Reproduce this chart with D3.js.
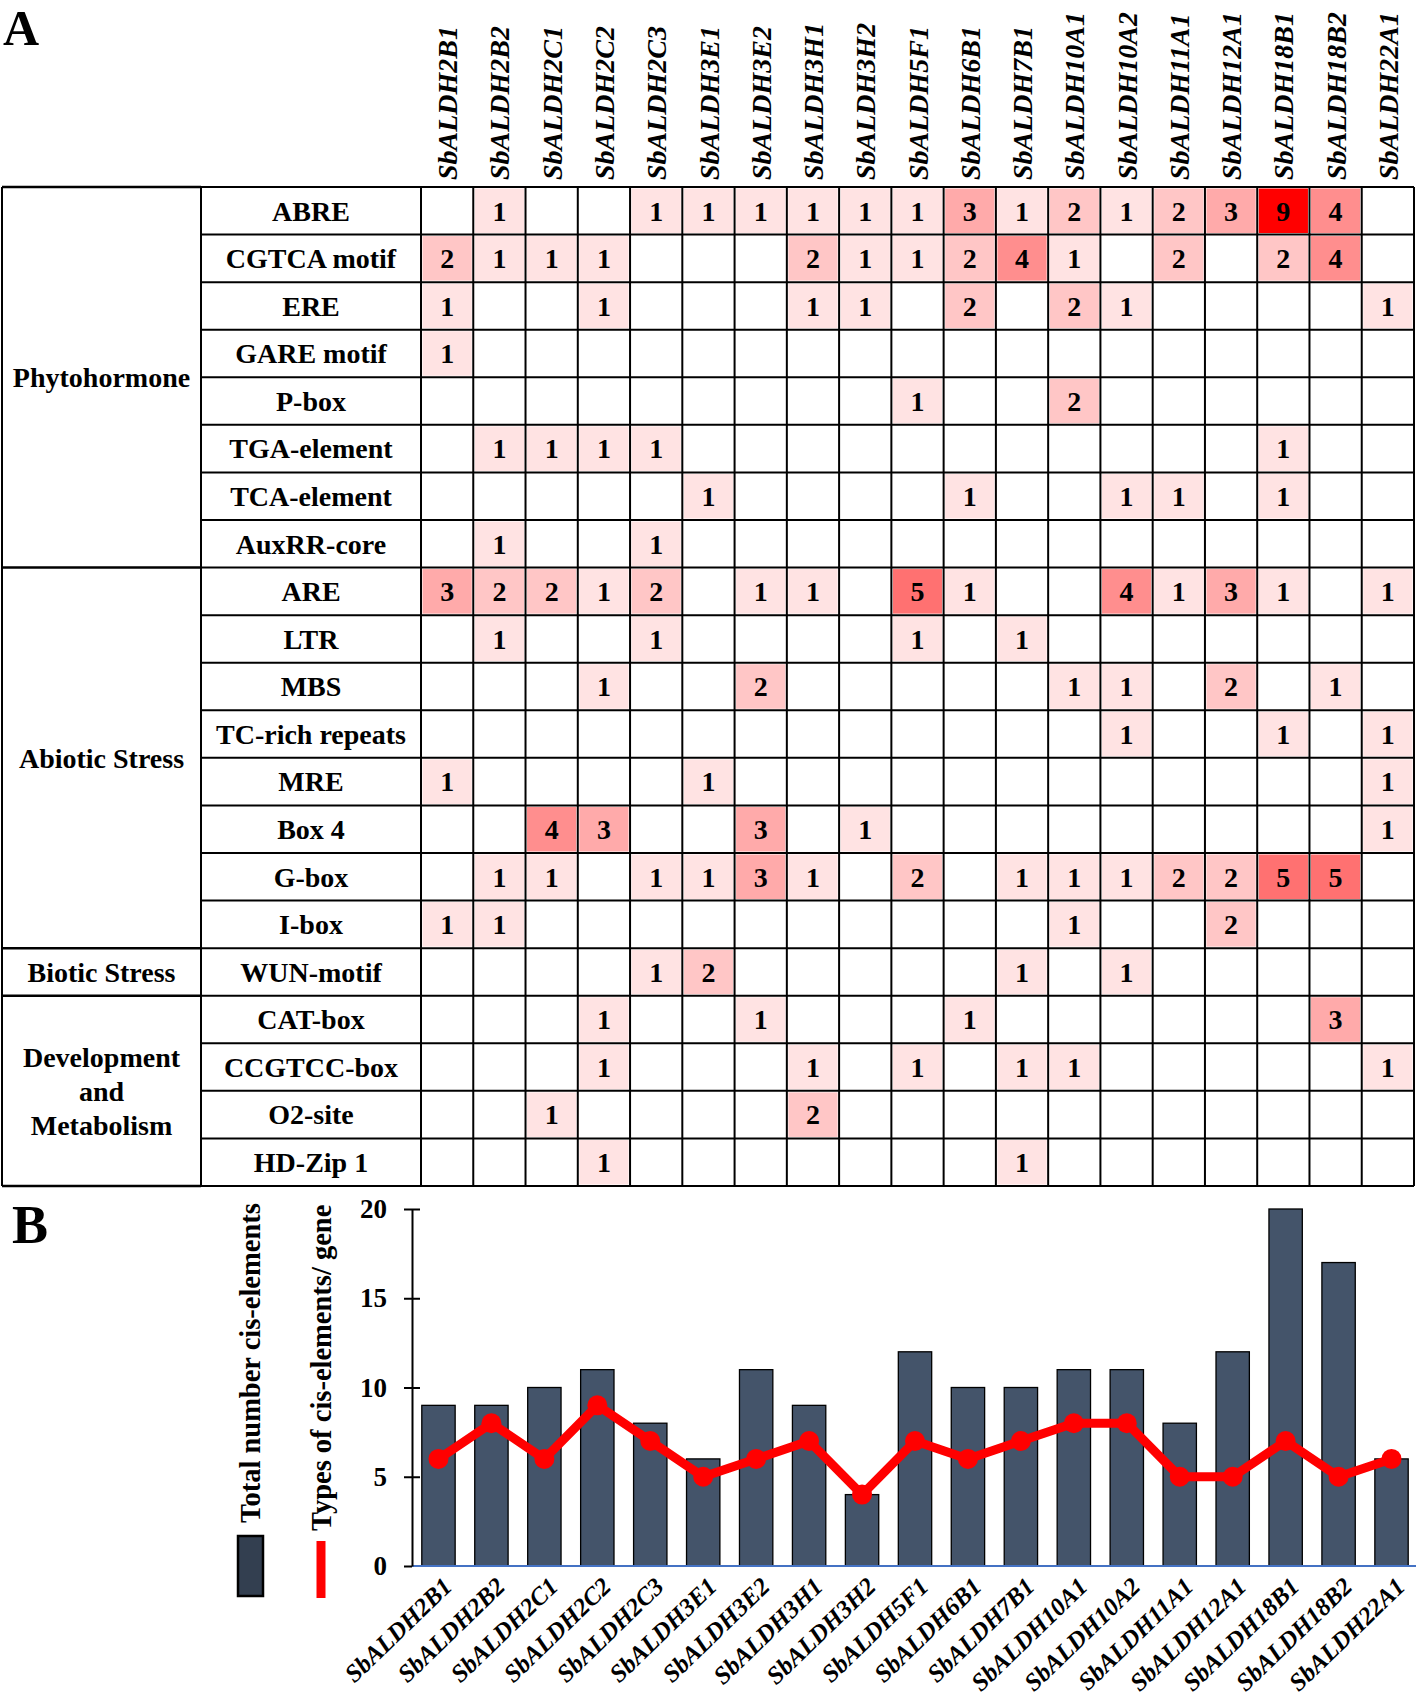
<!DOCTYPE html>
<html>
<head>
<meta charset="utf-8">
<script src="https://cdn.jsdelivr.net/npm/d3@7"></script>
<style>
  html, body { margin: 0; padding: 0; background: #fff; }
  svg { display: block; }
  text { font-family: "Liberation Serif", "Times New Roman", serif; font-weight: bold; fill: #000; }
</style>
</head>
<body>
<svg id="chart" width="1416" height="1703"></svg>
<script>
// ---------------- DATA ----------------
const genes = ["SbALDH2B1","SbALDH2B2","SbALDH2C1","SbALDH2C2","SbALDH2C3","SbALDH3E1","SbALDH3E2",
  "SbALDH3H1","SbALDH3H2","SbALDH5F1","SbALDH6B1","SbALDH7B1","SbALDH10A1","SbALDH10A2",
  "SbALDH11A1","SbALDH12A1","SbALDH18B1","SbALDH18B2","SbALDH22A1"];

const elements = ["ABRE","CGTCA motif","ERE","GARE motif","P-box","TGA-element","TCA-element","AuxRR-core",
  "ARE","LTR","MBS","TC-rich repeats","MRE","Box 4","G-box","I-box",
  "WUN-motif",
  "CAT-box","CCGTCC-box","O2-site","HD-Zip 1"];

const groupNames = [["Phytohormone"],["Abiotic Stress"],["Biotic Stress"],["Development","and","Metabolism"]];
const groupSizes = [8, 8, 1, 4];

const abre   = [0,1,0,0,1,1,1,1,1,1,3,1,2,1,2,3,9,4,0];
const cgtca  = [2,1,1,1,0,0,0,2,1,1,2,4,1,0,2,0,2,4,0];
const ere    = [1,0,0,1,0,0,0,1,1,0,2,0,2,1,0,0,0,0,1];
const gare   = [1,0,0,0,0,0,0,0,0,0,0,0,0,0,0,0,0,0,0];
const pbox   = [0,0,0,0,0,0,0,0,0,1,0,0,2,0,0,0,0,0,0];
const tga    = [0,1,1,1,1,0,0,0,0,0,0,0,0,0,0,0,1,0,0];
const tca    = [0,0,0,0,0,1,0,0,0,0,1,0,0,1,1,0,1,0,0];
const auxrr  = [0,1,0,0,1,0,0,0,0,0,0,0,0,0,0,0,0,0,0];
const are    = [3,2,2,1,2,0,1,1,0,5,1,0,0,4,1,3,1,0,1];
const ltr    = [0,1,0,0,1,0,0,0,0,1,0,1,0,0,0,0,0,0,0];
const mbs    = [0,0,0,1,0,0,2,0,0,0,0,0,1,1,0,2,0,1,0];
const tcrich = [0,0,0,0,0,0,0,0,0,0,0,0,0,1,0,0,1,0,1];
const mre    = [1,0,0,0,0,1,0,0,0,0,0,0,0,0,0,0,0,0,1];
const box4   = [0,0,4,3,0,0,3,0,1,0,0,0,0,0,0,0,0,0,1];
const gbox   = [0,1,1,0,1,1,3,1,0,2,0,1,1,1,2,2,5,5,0];
const ibox   = [1,1,0,0,0,0,0,0,0,0,0,0,1,0,0,2,0,0,0];
const wun    = [0,0,0,0,1,2,0,0,0,0,0,1,0,1,0,0,0,0,0];
const catbox = [0,0,0,1,0,0,1,0,0,0,1,0,0,0,0,0,0,3,0];
const ccgtcc = [0,0,0,1,0,0,0,1,0,1,0,1,1,0,0,0,0,0,1];
const o2site = [0,0,1,0,0,0,0,2,0,0,0,0,0,0,0,0,0,0,0];
const hdzip  = [0,0,0,1,0,0,0,0,0,0,0,1,0,0,0,0,0,0,0];

const matrix = [abre,cgtca,ere,gare,pbox,tga,tca,auxrr,are,ltr,mbs,tcrich,mre,box4,gbox,ibox,wun,catbox,ccgtcc,o2site,hdzip];

const totalCounts = [9,9,10,11,8,6,11,9,4,12,10,10,11,11,8,12,20,17,6];
const typeCounts  = [6,8,6,9,7,5,6,7,4,7,6,7,8,8,5,5,7,5,6];
const yTicks = [0,5,10,15,20];

// ---------------- DRAW ----------------
const svg = d3.select("#chart");
const FONT = 28;

// Panel labels
svg.append("text").attr("x", 3).attr("y", 45).attr("font-size", 50).text("A");
svg.append("text").attr("x", 12).attr("y", 1243).attr("font-size", 54).text("B");

// ---- Panel A: table heatmap ----
const tLeft = 2, tGroupR = 201, tElemR = 421, tRight = 1414, tTop = 187, tBottom = 1186;
const xCol = d3.scaleBand().domain(genes).range([tElemR, tRight]);
const yRow = d3.scaleBand().domain(elements).range([tTop, tBottom]);
const color = d3.scaleLinear().domain([0, 9]).range(["#ffffff", "#ff0000"]);

const gA = svg.append("g");

// column headers
gA.selectAll("text.gene").data(genes).join("text")
  .attr("class", "gene")
  .attr("transform", d => `translate(${xCol(d) + xCol.bandwidth() / 2},180) rotate(-90)`)
  .attr("dy", "0.36em")
  .attr("font-size", FONT)
  .attr("font-style", "italic")
  .text(d => d);

// cells
const cells = [];
matrix.forEach((row, r) => row.forEach((v, c) => cells.push({ r, c, v })));
const ins = 1.5;
gA.selectAll("rect.cell").data(cells.filter(d => d.v > 0)).join("rect")
  .attr("class", "cell")
  .attr("x", d => xCol(genes[d.c]) + ins)
  .attr("y", d => yRow(elements[d.r]) + ins)
  .attr("width", xCol.bandwidth() - 2 * ins)
  .attr("height", yRow.bandwidth() - 2 * ins)
  .attr("fill", d => color(d.v));

gA.selectAll("text.val").data(cells.filter(d => d.v > 0)).join("text")
  .attr("class", "val")
  .attr("x", d => xCol(genes[d.c]) + xCol.bandwidth() / 2)
  .attr("y", d => yRow(elements[d.r]) + yRow.bandwidth() / 2)
  .attr("dy", "0.35em")
  .attr("text-anchor", "middle")
  .attr("font-size", FONT)
  .text(d => d.v);

// element labels
gA.selectAll("text.elem").data(elements).join("text")
  .attr("class", "elem")
  .attr("x", (tGroupR + tElemR) / 2)
  .attr("y", d => yRow(d) + yRow.bandwidth() / 2)
  .attr("dy", "0.35em")
  .attr("text-anchor", "middle")
  .attr("font-size", FONT)
  .text(d => d);

// group labels
let start = 0;
const groupBounds = [];
groupSizes.forEach((n, i) => {
  const y0 = yRow(elements[start]);
  const y1 = yRow(elements[start + n - 1]) + yRow.bandwidth();
  groupBounds.push(y1);
  const lines = groupNames[i];
  const lh = 34;
  const cy = (y0 + y1) / 2;
  lines.forEach((t, k) => {
    gA.append("text")
      .attr("x", (tLeft + tGroupR) / 2)
      .attr("y", cy + (k - (lines.length - 1) / 2) * lh)
      .attr("dy", "0.35em")
      .attr("text-anchor", "middle")
      .attr("font-size", FONT)
      .text(t);
  });
  start += n;
});

// grid lines
const lw = 2;
const vx = [tLeft, tGroupR, tElemR].concat(genes.map(g => xCol(g) + xCol.bandwidth()));
gA.selectAll("line.v").data(vx).join("line")
  .attr("x1", d => d).attr("x2", d => d)
  .attr("y1", tTop).attr("y2", tBottom)
  .attr("stroke", "#000").attr("stroke-width", lw);
const hy = [tTop].concat(elements.map(e => yRow(e) + yRow.bandwidth()));
gA.selectAll("line.h").data(hy).join("line")
  .attr("x1", tGroupR).attr("x2", tRight)
  .attr("y1", d => d).attr("y2", d => d)
  .attr("stroke", "#000").attr("stroke-width", lw);
gA.selectAll("line.g").data([tTop].concat(groupBounds)).join("line")
  .attr("x1", tLeft).attr("x2", tGroupR)
  .attr("y1", d => d).attr("y2", d => d)
  .attr("stroke", "#000").attr("stroke-width", lw + 0.5);

// ---- Panel B: bar + line chart ----
const bLeft = 412, bRight = 1418, bTop = 1209, bBottom = 1566;
const xB = d3.scaleBand().domain(genes).range([bLeft, bRight]).paddingInner(0.37).paddingOuter(0.185);
const yB = d3.scaleLinear().domain([0, 20]).range([bBottom, bTop]);
const gB = svg.append("g");

gB.selectAll("rect.bar").data(totalCounts).join("rect")
  .attr("class", "bar")
  .attr("x", (d, i) => xB(genes[i]))
  .attr("y", d => yB(d))
  .attr("width", xB.bandwidth())
  .attr("height", d => yB(0) - yB(d))
  .attr("fill", "#44546a")
  .attr("stroke", "#000")
  .attr("stroke-width", 1.3);

gB.append("line")
  .attr("x1", bLeft).attr("x2", bRight)
  .attr("y1", yB(0)).attr("y2", yB(0))
  .attr("stroke", "#4472c4").attr("stroke-width", 1.8);

const yAxis = d3.axisLeft(yB).tickValues(yTicks).tickSizeInner(8).tickSizeOuter(0).tickPadding(17).tickFormat(d3.format("d"));
const ax = gB.append("g").attr("transform", `translate(${bLeft},0)`).call(yAxis);
ax.select(".domain").attr("stroke", "#000").attr("stroke-width", 2);
ax.selectAll(".tick line").attr("x1", d => d === 0 ? 0 : 8).attr("stroke", "#000").attr("stroke-width", 2);
ax.selectAll(".tick text")
  .attr("font-family", "'Liberation Serif', 'Times New Roman', serif")
  .attr("font-weight", "bold").attr("font-size", 27).attr("fill", "#000");

const lineGen = d3.line()
  .x((d, i) => xB(genes[i]) + xB.bandwidth() / 2)
  .y(d => yB(d));
gB.append("path").datum(typeCounts)
  .attr("d", lineGen)
  .attr("fill", "none").attr("stroke", "#ff0000").attr("stroke-width", 9)
  .attr("stroke-linejoin", "round");
gB.selectAll("circle.pt").data(typeCounts).join("circle")
  .attr("class", "pt")
  .attr("cx", (d, i) => xB(genes[i]) + xB.bandwidth() / 2)
  .attr("cy", d => yB(d))
  .attr("r", 10)
  .attr("fill", "#ff0000");

gB.selectAll("text.xl").data(genes).join("text")
  .attr("class", "xl")
  .attr("transform", d => `translate(${xB(d) + xB.bandwidth() / 2 + 9},1582) rotate(-44)`)
  .attr("dy", "0.35em")
  .attr("text-anchor", "end")
  .attr("font-size", 25)
  .attr("font-style", "italic")
  .text(d => d);

// legend
gB.append("rect").attr("x", 238).attr("y", 1536).attr("width", 25).attr("height", 60)
  .attr("fill", "#333f50").attr("stroke", "#000").attr("stroke-width", 2.5);
gB.append("text")
  .attr("transform", "translate(250,1523) rotate(-90)")
  .attr("dy", "0.36em")
  .attr("font-size", 28.5)
  .text("Total number cis-elements");
gB.append("line").attr("x1", 321).attr("x2", 321).attr("y1", 1541).attr("y2", 1598)
  .attr("stroke", "#ff0000").attr("stroke-width", 9);
gB.append("text")
  .attr("transform", "translate(321,1531) rotate(-90)")
  .attr("dy", "0.36em")
  .attr("font-size", 28.5)
  .text("Types of cis-elements/ gene");
</script>
</body>
</html>
